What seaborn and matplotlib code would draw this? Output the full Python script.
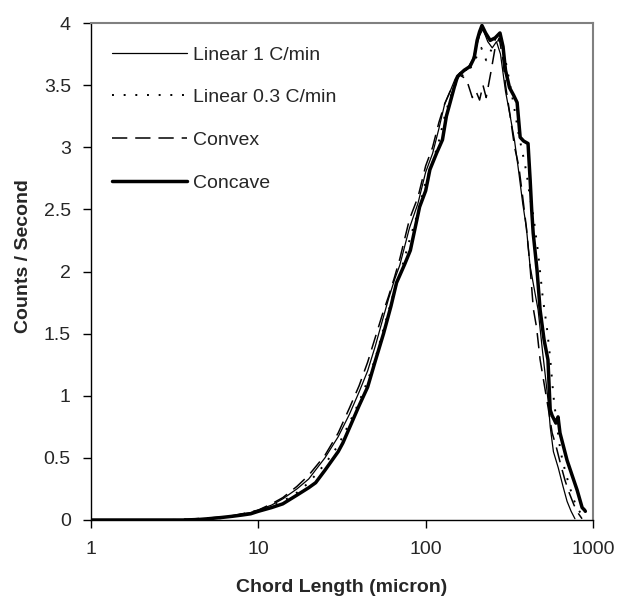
import numpy as np
import pandas as pd
import matplotlib
matplotlib.use("Agg")
import matplotlib.pyplot as plt
import seaborn as sns

# ---- data ----
lin1_x = [1, 2, 3, 4, 5, 6, 7, 8, 9, 10, 12, 14, 17, 20, 25, 30, 35, 40, 45, 50, 55, 60, 65, 70, 80, 90,
          100, 110, 120, 130, 140, 150, 160, 175, 190, 200, 210, 220, 235, 250, 265, 280, 300, 320, 340,
          360, 380, 400, 420, 440, 470, 500, 520, 540, 555, 580, 620, 662, 700, 740, 780]
lin1_y = [0, 0, 0, 0.005, 0.01, 0.02, 0.03, 0.05, 0.06, 0.08, 0.12, 0.17, 0.25, 0.33, 0.50, 0.67, 0.85, 1.03,
          1.20, 1.40, 1.60, 1.78, 1.93, 2.05, 2.35, 2.55, 2.80, 2.95, 3.15, 3.35, 3.45, 3.55, 3.60, 3.62,
          3.70, 3.80, 3.90, 3.95, 3.85, 3.80, 3.85, 3.75, 3.45, 3.25, 3.05, 2.80, 2.55, 2.35, 2.05, 1.90,
          1.69, 1.35, 1.15, 0.95, 0.75, 0.55, 0.42, 0.27, 0.15, 0.07, 0.01]

lin03_x = [1, 2, 3, 4, 5, 6, 7, 8, 9, 10, 12, 14, 17, 20, 25, 30, 35, 40, 45, 50, 55, 60, 65, 70, 80, 90,
           100, 110, 120, 130, 140, 150, 160, 175, 190, 200, 215, 230, 250, 265, 280, 300, 320, 340, 360,
           380, 400, 420, 440, 470, 500, 530, 555, 580, 610, 640, 680, 720, 760, 800, 850, 900]
lin03_y = [0, 0, 0, 0.005, 0.01, 0.015, 0.025, 0.04, 0.05, 0.07, 0.11, 0.15, 0.22, 0.30, 0.45, 0.60, 0.78,
           0.95, 1.12, 1.30, 1.50, 1.68, 1.85, 1.97, 2.25, 2.48, 2.72, 2.88, 3.05, 3.25, 3.40, 3.50, 3.55,
           3.62, 3.65, 3.72, 3.80, 3.70, 3.80, 3.90, 3.85, 3.70, 3.50, 3.30, 3.10, 2.95, 2.80, 2.60, 2.45,
           2.15, 1.80, 1.55, 1.30, 1.00, 0.75, 0.55, 0.40, 0.28, 0.18, 0.10, 0.05, 0.02]

convex_x = [1, 2, 3, 4, 5, 6, 7, 8, 9, 10, 12, 14, 17, 20, 25, 30, 35, 40, 45, 50, 55, 60, 65, 70, 80, 90,
            100, 110, 120, 130, 140, 150, 160, 175, 190, 200, 210, 220, 230, 245, 260, 275, 290, 300, 320,
            340, 360, 380, 400, 420, 440, 460, 483, 510, 540, 570, 600, 640, 680, 720, 770, 820, 860]
convex_y = [0, 0, 0, 0.01, 0.015, 0.025, 0.035, 0.05, 0.065, 0.08, 0.13, 0.18, 0.27, 0.36, 0.52, 0.70, 0.90,
            1.08, 1.27, 1.47, 1.65, 1.80, 1.95, 2.10, 2.42, 2.60, 2.85, 3.00, 3.20, 3.35, 3.45, 3.52, 3.58,
            3.55, 3.40, 3.45, 3.38, 3.50, 3.40, 3.60, 3.80, 3.88, 3.70, 3.50, 3.25, 3.00, 2.85, 2.60, 2.35,
            2.05, 1.70, 1.55, 1.29, 1.10, 0.90, 0.70, 0.60, 0.45, 0.32, 0.22, 0.12, 0.05, 0.01]

concave_x = [1, 2, 3, 4, 5, 6, 7, 8, 9, 10, 12, 14, 17, 20, 22, 25, 30, 32, 35, 40, 45, 50, 56, 62, 67, 75,
             81, 92, 100, 106, 116, 126, 133, 140, 148, 155, 170, 184, 195, 203, 210, 217, 228, 243, 260,
             278, 290, 300, 317, 335, 352, 367, 385, 409, 421, 430, 439, 463, 483, 510, 538, 550, 555, 570,
             590, 600, 618, 635, 700, 750, 804, 861, 890, 900]
concave_y = [0, 0, 0, 0, 0.01, 0.02, 0.03, 0.04, 0.05, 0.07, 0.10, 0.13, 0.20, 0.26, 0.30, 0.40, 0.55, 0.62,
             0.74, 0.92, 1.07, 1.28, 1.50, 1.72, 1.91, 2.06, 2.17, 2.52, 2.65, 2.82, 2.95, 3.06, 3.25, 3.36,
             3.48, 3.57, 3.62, 3.65, 3.72, 3.86, 3.93, 3.98, 3.92, 3.86, 3.88, 3.92, 3.81, 3.62, 3.48, 3.42,
             3.36, 3.08, 3.05, 3.03, 2.74, 2.50, 2.31, 2.01, 1.69, 1.45, 1.29, 1.00, 0.885, 0.84, 0.80, 0.78,
             0.83, 0.70, 0.48, 0.36, 0.24, 0.10, 0.08, 0.07]

labels = ["Linear 1 C/min", "Linear 0.3 C/min", "Convex", "Concave"]
x_ticks = [1, 10, 100, 1000]
x_tick_labels = ["1", "10", "100", "1000"]
y_ticks = [0, 0.5, 1, 1.5, 2, 2.5, 3, 3.5, 4]
y_tick_labels = ["0", "0.5", "1", "1.5", "2", "2.5", "3", "3.5", "4"]

# ---- style ----
sns.set_style("ticks")
plt.rcParams["font.family"] = ["Liberation Sans", "DejaVu Sans"]
FS = 14

fig = plt.figure(figsize=(6.20, 6.01), dpi=100)
ax = fig.add_axes([91 / 620, 81 / 601, 502 / 620, 497 / 601])

series = [
    (lin1_x, lin1_y, dict(color="black", linewidth=0.9, linestyle="-")),
    (lin03_x, lin03_y, dict(color="black", linewidth=1.4, linestyle=(0, (1.0, 5.0)))),
    (convex_x, convex_y, dict(color="black", linewidth=1.1, linestyle=(0, (10, 5.2)))),
    (concave_x, concave_y, dict(color="black", linewidth=2.5, linestyle="-")),
]
for (xs, ys, kw), lab in zip(series, labels):
    df = pd.DataFrame({"x": xs, "y": ys})
    sns.lineplot(data=df, x="x", y="y", ax=ax, label=lab, sort=False, **kw)

ax.set_xscale("log")
ax.set_xlim(1, 1000)
ax.set_ylim(0, 4)
ax.set_xticks(x_ticks)
ax.set_xticklabels(x_tick_labels)
ax.xaxis.set_minor_locator(matplotlib.ticker.NullLocator())
ax.set_yticks(y_ticks)
ax.set_yticklabels(y_tick_labels)
ax.tick_params(axis="both", labelsize=FS, length=6, width=1, color="black", direction="out")
ax.tick_params(axis="x", pad=9)
ax.tick_params(axis="y", pad=8.5)

for s in ["left", "bottom"]:
    ax.spines[s].set_color("black")
    ax.spines[s].set_linewidth(1.0)
for s in ["top", "right"]:
    ax.spines[s].set_color("#808080")
    ax.spines[s].set_linewidth(1.5)

ax.set_xlabel("Chord Length (micron)", fontsize=FS, fontweight="bold")
ax.xaxis.label.set_verticalalignment("center")
ax.xaxis.set_label_coords(0.5, (520 - 587) / 497)
ax.set_ylabel("Counts / Second", fontsize=FS, fontweight="bold")
ax.yaxis.label.set_verticalalignment("center")
ax.yaxis.set_label_coords((24 - 91) / 502, (520 - 256) / 497)

leg = ax.legend(loc="upper left", bbox_to_anchor=((112 - 91) / 502, (520 - 46) / 497), frameon=False,
                fontsize=FS, handlelength=3.85, handletextpad=0.3, labelspacing=1.29,
                borderaxespad=0, borderpad=0)

fig.savefig("out.png", dpi=100)
